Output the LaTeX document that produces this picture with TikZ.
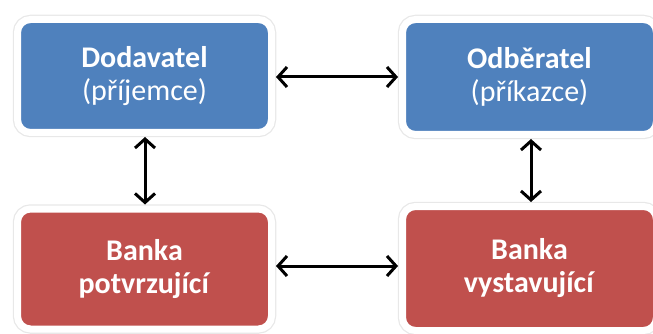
\documentclass[tikz,border=0pt]{standalone}
\usepackage{fontspec}
\setmainfont{Carlito}
\usetikzlibrary{arrows.meta}
\definecolor{boxblue}{HTML}{4F81BD}
\definecolor{boxred}{HTML}{C0504D}
\tikzset{
  cardbox/.style={rounded corners=13pt, draw=white, line width=7pt,
    preaction={draw=black!9, line width=9.5pt},
    minimum width=254pt, text=white, align=center,
    font=\fontsize{30}{33}\selectfont, inner sep=0pt},
  bluebox/.style={cardbox, fill=boxblue},
  redbox/.style={cardbox, fill=boxred},
  link/.style={{Straight Barb[length=9pt,width=20pt,line width=3pt]}-{Straight Barb[length=9pt,width=20pt,line width=3pt]}, line width=3pt, black, shorten <=1pt, shorten >=1pt}
}
\begin{document}
\begin{tikzpicture}[x=1pt,y=-1pt]
\useasboundingbox (0,0) rectangle (653,334);
\node[bluebox, minimum height=113pt] (dod) at (144.5,76) {\textbf{Dodavatel}\\(příjemce)};
\node[bluebox, minimum height=115pt] (odb) at (529.5,77) {\textbf{Odběratel}\\(příkazce)};
\node[redbox, minimum height=120pt] (bp) at (144.5,269) {\textbf{Banka}\\\textbf{potvrzující}};
\node[redbox, minimum height=124pt] (bv) at (529.5,268.5) {\textbf{Banka}\\\textbf{vystavující}};
\draw[link] (dod.east |- 0,77) -- (odb.west |- 0,77);
\draw[link] (bp.east |- 0,266) -- (bv.west |- 0,266);
\draw[link] (dod.south -| 145,0) -- (bp.north -| 145,0);
\draw[link] (odb.south -| 531,0) -- (bv.north -| 531,0);
\end{tikzpicture}
\end{document}
